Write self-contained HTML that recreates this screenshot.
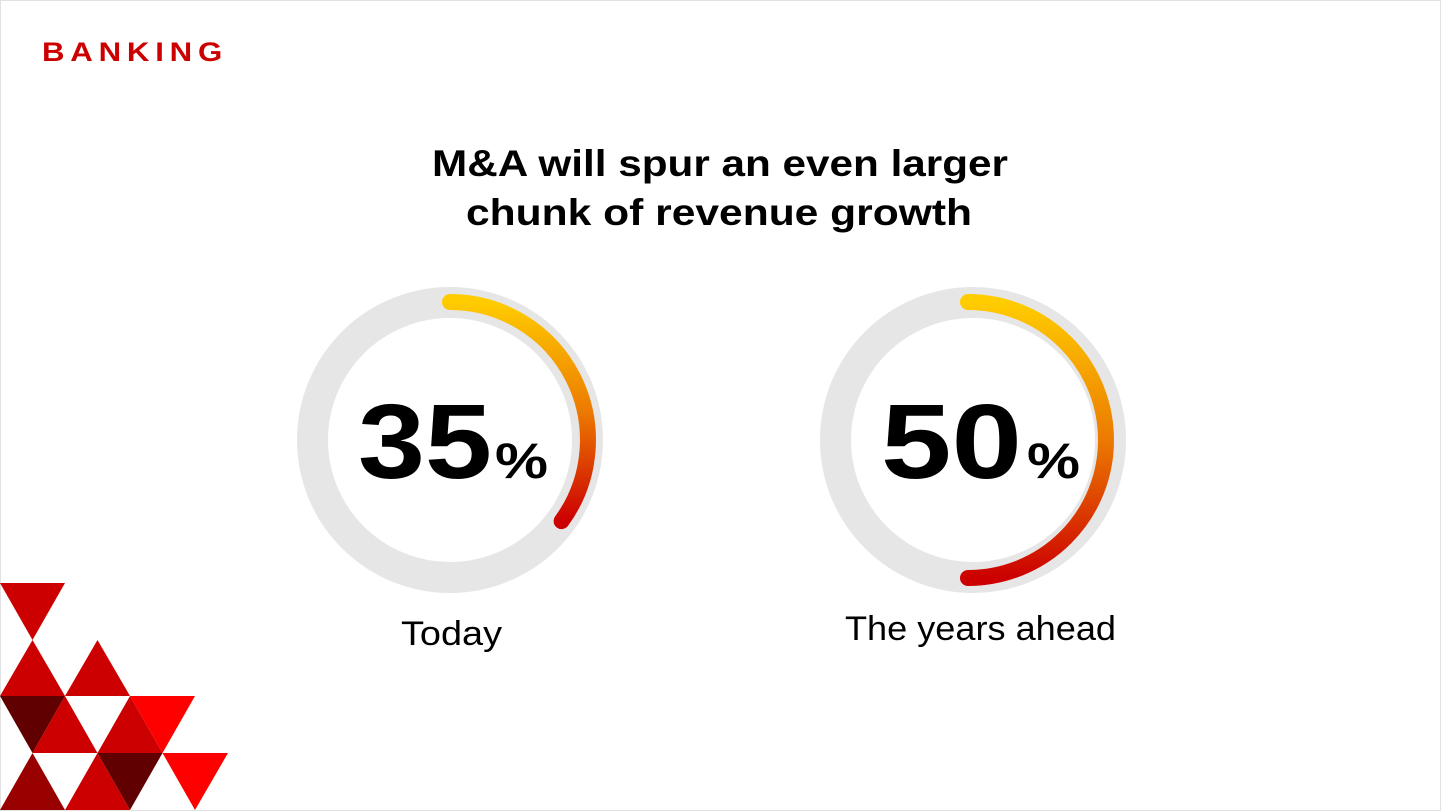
<!DOCTYPE html>
<html><head><meta charset="utf-8"><style>
html,body{margin:0;padding:0;background:#fff}
body{width:1441px;height:811px;overflow:hidden;position:relative;font-family:"Liberation Sans",sans-serif}
.frame{position:absolute;left:0;top:0;width:1439px;height:809px;border:1px solid #e2e2e2}
</style></head><body>
<div class="frame"></div>
<svg width="1441" height="811" style="position:absolute;left:0;top:0" font-family="Liberation Sans, sans-serif">
<defs>
<linearGradient id="g1" x1="0" y1="0" x2="0" y2="1"><stop offset="0" stop-color="#ffcc00"/><stop offset="0.5" stop-color="#ec7a00"/><stop offset="1" stop-color="#cc0000"/></linearGradient>
</defs>
<text x="42" y="61" font-size="27" font-weight="bold" fill="#cc0000" textLength="186" lengthAdjust="spacingAndGlyphs" letter-spacing="5">BANKING</text>
<text x="432" y="176" font-size="37" font-weight="bold" fill="#000" textLength="576" lengthAdjust="spacingAndGlyphs">M&amp;A will spur an even larger</text>
<text x="466" y="225" font-size="37" font-weight="bold" fill="#000" textLength="506" lengthAdjust="spacingAndGlyphs">chunk of revenue growth</text>
<!-- donut 1 -->
<circle cx="450" cy="440" r="137.5" fill="none" stroke="#e6e6e6" stroke-width="31"/>
<path d="M450 302 A138 138 0 0 1 561.6 521.1" fill="none" stroke="url(#g1)" stroke-width="16" stroke-linecap="round"/>
<text x="358" y="478" font-size="106" font-weight="bold" fill="#000" textLength="134" lengthAdjust="spacingAndGlyphs">35</text>
<text x="495" y="478" font-size="50" font-weight="bold" fill="#000" textLength="53" lengthAdjust="spacingAndGlyphs">%</text>
<text x="401" y="645" font-size="34" fill="#000" textLength="101" lengthAdjust="spacingAndGlyphs">Today</text>
<!-- donut 2 -->
<circle cx="973" cy="440" r="137.5" fill="none" stroke="#e6e6e6" stroke-width="31"/>
<path d="M968 302 A138 138 0 0 1 968 578" fill="none" stroke="url(#g1)" stroke-width="16" stroke-linecap="round"/>
<text x="881" y="478" font-size="106" font-weight="bold" fill="#000" textLength="141" lengthAdjust="spacingAndGlyphs">50</text>
<text x="1027" y="478" font-size="50" font-weight="bold" fill="#000" textLength="53" lengthAdjust="spacingAndGlyphs">%</text>
<text x="845" y="640" font-size="34" fill="#000" textLength="271" lengthAdjust="spacingAndGlyphs">The years ahead</text>
<!-- triangles -->
<polygon points="0,583 65,583 32.5,640" fill="#cc0000"/>
<polygon points="0,696 32.5,640 65,696" fill="#cc0000"/>
<polygon points="65,696 97.5,640 130,696" fill="#cc0000"/>
<polygon points="0,696 65,696 32.5,753" fill="#600000"/>
<polygon points="32.5,753 65,696 97.5,753" fill="#cc0000"/>
<polygon points="97.5,753 130,696 162.5,753" fill="#cc0000"/>
<polygon points="130,696 195,696 162.5,753" fill="#ff0000"/>
<polygon points="0,810 32.5,753 65,810" fill="#990000"/>
<polygon points="65,810 97.5,753 130,810" fill="#cc0000"/>
<polygon points="97.5,753 162.5,753 130,810" fill="#600000"/>
<polygon points="162.5,753 228,753 195,810" fill="#ff0000"/>
</svg>
</body></html>
